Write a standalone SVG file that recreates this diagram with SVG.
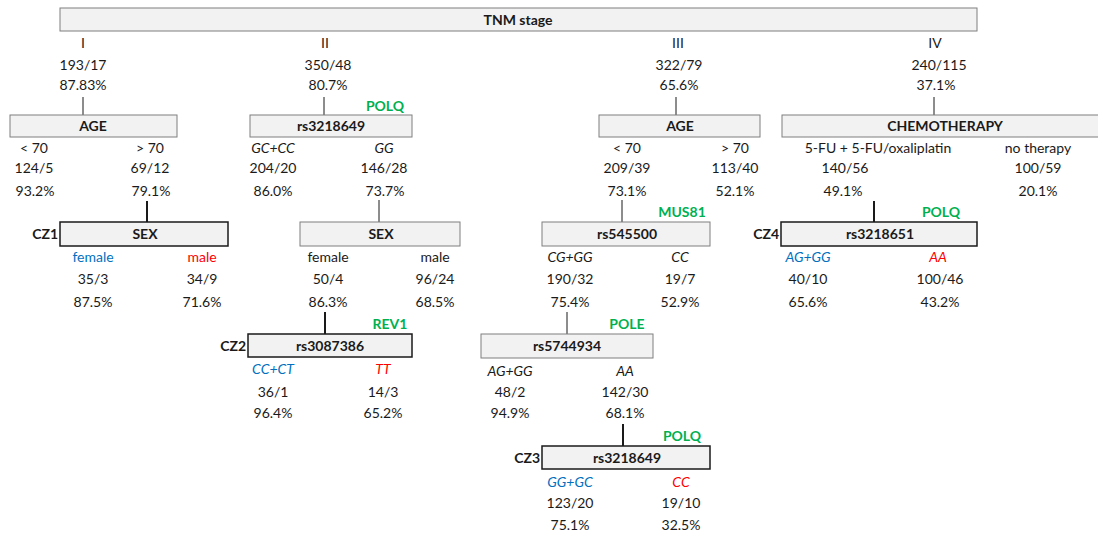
<svg xmlns="http://www.w3.org/2000/svg" width="1098" height="533" viewBox="0 0 1098 533">
  <style>
    text { font-family: Lato, "Open Sans", "Liberation Sans", sans-serif; font-size: 14px; fill: #1a1a1a; text-anchor: middle; }
    .b { font-weight: bold; }
    .i { font-style: italic; }
    .blue { fill: #0070c0; }
    .red { fill: #ff0000; }
    .gene { fill: #00b050; font-weight: bold; }
    .cz { font-weight: bold; text-anchor: end; }
    .roman { opacity: 0.99; }
    .box { fill: #f2f2f2; stroke: #7f7f7f; stroke-width: 1; }
    .boxcz { fill: #f2f2f2; stroke: #1a1a1a; stroke-width: 1.5; }
    .ln { stroke: #1a1a1a; stroke-width: 1; fill: none; }
    .lnb { stroke: #1a1a1a; stroke-width: 2; fill: none; }
  </style>

  <!-- connectors -->
  <g id="connectors">
    <line class="ln" x1="83" y1="97" x2="83" y2="115"/>
    <line class="ln" x1="324" y1="97" x2="324" y2="115"/>
    <line class="ln" x1="676" y1="97" x2="676" y2="115"/>
    <line class="ln" x1="934" y1="97" x2="934" y2="115"/>
    <line class="lnb" x1="147" y1="201" x2="147" y2="222"/>
    <line class="ln" x1="379" y1="200" x2="379" y2="222"/>
    <line class="ln" x1="622" y1="200" x2="622" y2="222"/>
    <line class="lnb" x1="874" y1="201" x2="874" y2="222"/>
    <line class="lnb" x1="325" y1="312" x2="325" y2="334"/>
    <line class="ln" x1="567" y1="312" x2="567" y2="334"/>
    <line class="lnb" x1="623" y1="424" x2="623" y2="446"/>
  </g>

  <!-- root -->
  <g id="tnm">
    <rect class="box" x="60" y="8" width="917" height="23"/>
    <text class="b" x="518" y="25">TNM stage</text>
  </g>

  <!-- stage branches -->
  <g id="stage-1">
    <text class="roman" x="83" y="48">I</text>
    <text x="83" y="70">193/17</text>
    <text x="83" y="90">87.83%</text>
  </g>
  <g id="stage-2">
    <text class="roman" x="325" y="48">II</text>
    <text x="328" y="70">350/48</text>
    <text x="328" y="90">80.7%</text>
  </g>
  <g id="stage-3">
    <text class="roman" x="678" y="48">III</text>
    <text x="679" y="70">322/79</text>
    <text x="679" y="90">65.6%</text>
  </g>
  <g id="stage-4">
    <text class="roman" x="935" y="48">IV</text>
    <text x="939" y="70">240/115</text>
    <text x="936" y="90">37.1%</text>
  </g>

  <!-- stage I: age -->
  <g id="age-1">
    <rect class="box" x="10" y="115" width="167" height="22"/>
    <text class="b" x="93" y="131">AGE</text>
    <text x="34" y="153">&lt; 70</text>
    <text x="34" y="173">124/5</text>
    <text x="35" y="196">93.2%</text>
    <text x="150" y="153">&gt; 70</text>
    <text x="150" y="173">69/12</text>
    <text x="151" y="196">79.1%</text>
  </g>

  <!-- stage II: POLQ rs3218649 -->
  <g id="polq-2">
    <rect class="box" x="250" y="115" width="162" height="22"/>
    <text class="b" x="331" y="131">rs3218649</text>
    <text class="gene" x="385" y="111">POLQ</text>
    <text class="i" x="273" y="153">GC+CC</text>
    <text x="273" y="173">204/20</text>
    <text x="273" y="196">86.0%</text>
    <text class="i" x="384" y="153">GG</text>
    <text x="384" y="173">146/28</text>
    <text x="385" y="196">73.7%</text>
  </g>

  <!-- stage III: age -->
  <g id="age-3">
    <rect class="box" x="599" y="115" width="161" height="22"/>
    <text class="b" x="680" y="131">AGE</text>
    <text x="627" y="153">&lt; 70</text>
    <text x="627" y="173">209/39</text>
    <text x="627" y="196">73.1%</text>
    <text x="735" y="153">&gt; 70</text>
    <text x="735" y="173">113/40</text>
    <text x="735" y="196">52.1%</text>
  </g>

  <!-- stage IV: chemotherapy -->
  <g id="chemo-4">
    <rect class="box" x="782" y="115" width="320" height="22"/>
    <text class="b" x="945" y="131">CHEMOTHERAPY</text>
    <text x="878" y="153">5-FU + 5-FU/oxaliplatin</text>
    <text x="845" y="173">140/56</text>
    <text x="843" y="196">49.1%</text>
    <text x="1038" y="153">no therapy</text>
    <text x="1038" y="173">100/59</text>
    <text x="1038" y="196">20.1%</text>
  </g>

  <!-- CZ1: sex -->
  <g id="cz1">
    <rect class="boxcz" x="60" y="222" width="168" height="24"/>
    <text class="b" x="145" y="239">SEX</text>
    <text class="cz" x="58" y="239">CZ1</text>
    <text class="blue" x="93" y="262">female</text>
    <text x="93" y="284">35/3</text>
    <text x="93" y="307">87.5%</text>
    <text class="red" x="202" y="262">male</text>
    <text x="202" y="284">34/9</text>
    <text x="202" y="307">71.6%</text>
  </g>

  <!-- stage II GG: sex -->
  <g id="sex-2">
    <rect class="box" x="300" y="222" width="160" height="24"/>
    <text class="b" x="381" y="239">SEX</text>
    <text x="328" y="262">female</text>
    <text x="328" y="284">50/4</text>
    <text x="328" y="307">86.3%</text>
    <text x="435" y="262">male</text>
    <text x="435" y="284">96/24</text>
    <text x="435" y="307">68.5%</text>
  </g>

  <!-- stage III < 70: MUS81 rs545500 -->
  <g id="mus81-3">
    <rect class="box" x="542" y="222" width="168" height="24"/>
    <text class="b" x="627" y="239">rs545500</text>
    <text class="gene" x="682" y="217">MUS81</text>
    <text class="i" x="570" y="262">CG+GG</text>
    <text x="570" y="284">190/32</text>
    <text x="570" y="307">75.4%</text>
    <text class="i" x="680" y="262">CC</text>
    <text x="680" y="284">19/7</text>
    <text x="680" y="307">52.9%</text>
  </g>

  <!-- CZ4: POLQ rs3218651 -->
  <g id="cz4">
    <rect class="boxcz" x="781" y="222" width="196" height="24"/>
    <text class="b" x="880" y="239">rs3218651</text>
    <text class="gene" x="941" y="217">POLQ</text>
    <text class="cz" x="779" y="239">CZ4</text>
    <text class="i blue" x="808" y="262">AG+GG</text>
    <text x="808" y="284">40/10</text>
    <text x="808" y="307">65.6%</text>
    <text class="i red" x="938" y="262">AA</text>
    <text x="940" y="284">100/46</text>
    <text x="940" y="307">43.2%</text>
  </g>

  <!-- CZ2: REV1 rs3087386 -->
  <g id="cz2">
    <rect class="boxcz" x="248" y="334" width="164" height="23"/>
    <text class="b" x="330" y="351">rs3087386</text>
    <text class="gene" x="390" y="329">REV1</text>
    <text class="cz" x="246" y="351">CZ2</text>
    <text class="i blue" x="273" y="374">CC+CT</text>
    <text x="273" y="397">36/1</text>
    <text x="273" y="418">96.4%</text>
    <text class="i red" x="383" y="374">TT</text>
    <text x="383" y="397">14/3</text>
    <text x="383" y="418">65.2%</text>
  </g>

  <!-- stage III CG+GG: POLE rs5744934 -->
  <g id="pole-3">
    <rect class="box" x="481" y="334" width="172" height="24"/>
    <text class="b" x="567" y="351">rs5744934</text>
    <text class="gene" x="627" y="329">POLE</text>
    <text class="i" x="510" y="376">AG+GG</text>
    <text x="510" y="397">48/2</text>
    <text x="510" y="418">94.9%</text>
    <text class="i" x="625" y="376">AA</text>
    <text x="625" y="397">142/30</text>
    <text x="625" y="418">68.1%</text>
  </g>

  <!-- CZ3: POLQ rs3218649 -->
  <g id="cz3">
    <rect class="boxcz" x="542" y="446" width="168" height="23"/>
    <text class="b" x="627" y="463">rs3218649</text>
    <text class="gene" x="682" y="441">POLQ</text>
    <text class="cz" x="540" y="463">CZ3</text>
    <text class="i blue" x="570" y="487">GG+GC</text>
    <text x="570" y="508">123/20</text>
    <text x="570" y="530">75.1%</text>
    <text class="i red" x="681" y="487">CC</text>
    <text x="681" y="508">19/10</text>
    <text x="681" y="530">32.5%</text>
  </g>
</svg>
